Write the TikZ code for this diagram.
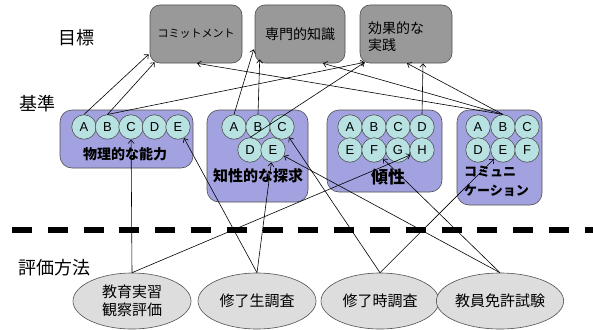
\documentclass[tikz,border=0pt]{standalone}
\usepackage{fontspec}
\setmainfont{Liberation Sans}
\newfontfamily\jp{Noto Sans CJK JP}
\usetikzlibrary{arrows.meta,shapes.geometric,calc}
\definecolor{goalfill}{HTML}{999999}
\definecolor{critfill}{HTML}{A2A2E0}
\definecolor{circfill}{HTML}{B8E2E2}
\definecolor{ellfill}{HTML}{DDDDDD}
\definecolor{edgecol}{HTML}{505050}
\begin{document}
\begin{tikzpicture}[x=1pt,y=-1pt,
  goalbox/.style={draw=edgecol, fill=goalfill, rounded corners=10pt, line width=0.6pt, inner sep=0pt, minimum height=58pt},
  critbox/.style={draw=edgecol, fill=critfill, rounded corners=12pt, line width=0.6pt, inner sep=0pt},
  letter/.style={circle, draw=edgecol, fill=circfill, minimum size=24.5pt, inner sep=0pt, font=\fontsize{13}{13}\selectfont, line width=0.6pt},
  method/.style={ellipse, draw=edgecol, fill=ellfill, minimum width=118pt, minimum height=56pt, inner sep=0pt, align=center, font=\jp\fontsize{15}{18}\selectfont, line width=0.6pt},
  head/.style={font=\jp\fontsize{18}{18}\selectfont},
  crit/.style={font=\jp\bfseries\fontsize{14}{14}\selectfont, inner sep=0pt},
  link/.style={-{Straight Barb[length=3.5pt,width=6pt]}, line width=0.6pt},
]
\useasboundingbox (0,0) rectangle (593,329);
\fill[white] (0,0) rectangle (593,329);

% headings
\node[head] (h1) at (76,38) {目標};
\node[head] (h2) at (37,104) {基準};
\node[head] (h3) at (54,268) {評価方法};

% goal boxes
\node[goalbox, minimum width=92pt, font=\jp\fontsize{11}{11}\selectfont] (g1) at (196,34) {コミットメント};
\node[goalbox, minimum width=90pt, font=\jp\fontsize{14}{14}\selectfont] (g2) at (300,34) {専門的知識};
\node[goalbox, minimum width=92pt] (g3) at (406,34) {};
\node[anchor=west, align=left, inner sep=0pt, font=\jp\fontsize{14}{17}\selectfont] (g3t) at (368,37) {効果的な\\実践};

% criteria boxes
\node[critbox, minimum width=133pt, minimum height=58pt] (c1) at (126.5,139) {};
\node[critbox, minimum width=101pt, minimum height=92pt] (c2) at (257.5,156) {};
\node[critbox, minimum width=115pt, minimum height=82pt] (c3) at (384.5,151) {};
\node[critbox, minimum width=85pt, minimum height=95pt] (c4) at (499.5,157.5) {};

% box 1 circles
\node[letter] (A1) at (84,127) {A};
\node[letter] (B1) at (107.5,127) {B};
\node[letter] (C1) at (131,127) {C};
\node[letter] (D1) at (154.5,127) {D};
\node[letter] (E1) at (178,127) {E};
\node[crit] (l1) at (125,154) {物理的な能力};

% box 2 circles
\node[letter] (A2) at (234,127) {A};
\node[letter] (B2) at (258,127) {B};
\node[letter] (C2) at (282,127) {C};
\node[letter] (D2) at (250,150) {D};
\node[letter] (E2) at (273,150) {E};
\node[crit, font=\jp\bfseries\fontsize{15}{15}\selectfont] (l2) at (258,176) {知性的な探求};

% box 3 circles
\node[letter] (A3) at (350,127) {A};
\node[letter] (B3) at (374,127) {B};
\node[letter] (C3) at (398,127) {C};
\node[letter] (D3) at (422,127) {D};
\node[letter] (E3) at (350,150) {E};
\node[letter] (F3) at (374,150) {F};
\node[letter] (G3) at (398,150) {G};
\node[letter] (H3) at (422,150) {H};
\node[crit, font=\jp\bfseries\fontsize{17}{17}\selectfont] (l3) at (388,177) {傾性};

% box 4 circles
\node[letter] (A4) at (478,127) {A};
\node[letter] (B4) at (503,127) {B};
\node[letter] (C4) at (527,127) {C};
\node[letter] (D4) at (478,150) {D};
\node[letter] (E4) at (503,150) {E};
\node[letter] (F4) at (527,150) {F};
\node[crit, anchor=west, align=left, font=\jp\bfseries\fontsize{13}{19}\selectfont] (l4) at (464,181) {コミュニ\\ケーション};

% separator
\draw[line width=5.5pt, dash pattern=on 20pt off 15.8pt] (12,230) -- (593,230);

% methods
\node[method] (e1) at (132,301) {教育実習\\観察評価};
\node[method] (e2) at (257,301) {修了生調査};
\node[method] (e3) at (380,301) {修了時調査};
\node[method] (e4) at (500,301) {教員免許試験};

% criteria -> goals
\draw[link] (A1.north) -- ($(g1.south west)+(-1,-9)$);
\draw[link] (B1.north) -- ($(g1.south west)+(5,-1)$);
\draw[link] (B1.north) -- ($(g3.south west)+(5,-1)$);
\draw[link] (A2.north) -- ($(g2.south west)+(-1,-14)$);
\draw[link] (B2.north) -- ($(g2.south west)+(5,-4)$);
\draw[link] (D2.north) -- ($(g3.south west)+(5,-1)$);
\draw[link] (D3.north) -- ($(g3.south)+(17,0)$);
\draw[link] (B4.north) -- ($(g1.south)+(1,0)$);
\draw[link] (B4.north) -- ($(g2.south)+(23,0)$);
\draw[link] (B4.north) -- ($(g3.south)+(1,0)$);

% methods -> criteria
\draw[link] (e1.north) -- (C1);
\draw[link] (e1.north) -- (H3);
\draw[link] (e2.north) -- (E1);
\draw[link] (e2.north) -- (E2);
\draw[link] (e3.north) -- (C2);
\draw[link] (e3.north) -- (E4);
\draw[link] (e4.north) -- (E2);
\draw[link] (e4.north) -- (F3);
\end{tikzpicture}
\end{document}
